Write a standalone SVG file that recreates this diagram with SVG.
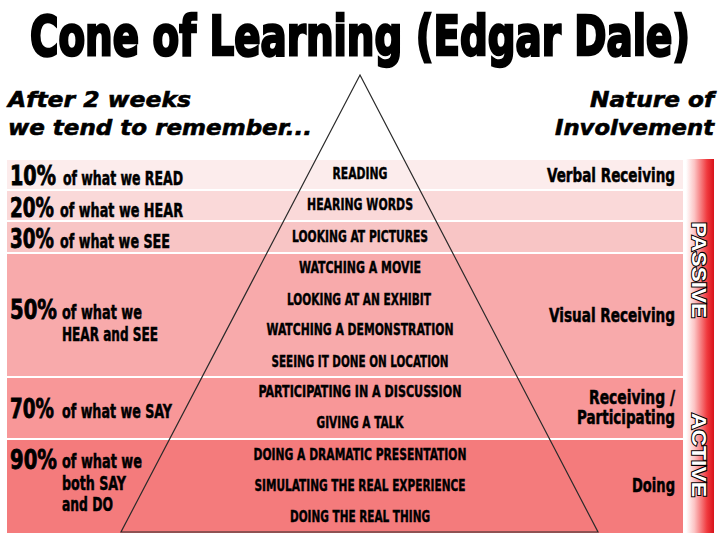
<svg xmlns="http://www.w3.org/2000/svg" width="720" height="540" viewBox="0 0 720 540">
  <defs>
    <linearGradient id="barGrad" x1="0" y1="0" x2="1" y2="0">
      <stop offset="0" stop-color="#ffffff"/>
      <stop offset="0.3" stop-color="#fcc4c4"/>
      <stop offset="0.75" stop-color="#f03a3e"/>
      <stop offset="1" stop-color="#d8121a"/>
    </linearGradient>
    <style>
      .title { font-family: "Liberation Sans Narrow", "DejaVu Sans Condensed", "Liberation Sans", sans-serif; font-weight: bold; font-size: 39px; fill: #000; stroke: #000; stroke-width: 1.8px; }
      .head { font-family: "DejaVu Sans", "Liberation Sans", sans-serif; font-weight: bold; font-style: italic; font-size: 21px; fill: #000; stroke: #000; stroke-width: 0.6px; }
      .pct { font-family: "Liberation Sans Narrow", "DejaVu Sans Condensed", "Liberation Sans", sans-serif; font-weight: bold; font-size: 27px; fill: #000; stroke: #000; stroke-width: 0.8px; }
      .what { font-family: "Liberation Sans Narrow", "DejaVu Sans Condensed", "Liberation Sans", sans-serif; font-weight: bold; font-size: 19px; fill: #000; stroke: #000; stroke-width: 0.5px; }
      .act { font-family: "Liberation Sans Narrow", "DejaVu Sans Condensed", "Liberation Sans", sans-serif; font-weight: bold; font-size: 15px; fill: #000; stroke: #000; stroke-width: 0.4px; text-anchor: middle; }
      .inv { font-family: "Liberation Sans Narrow", "DejaVu Sans Condensed", "Liberation Sans", sans-serif; font-weight: bold; font-size: 19px; fill: #000; stroke: #000; stroke-width: 0.5px; text-anchor: end; }
      .side { font-family: "Liberation Sans", "DejaVu Sans", sans-serif; font-weight: bold; font-size: 21px; fill: #fff; stroke: #000; stroke-width: 2px; paint-order: stroke; text-anchor: middle; }
      .cone { fill: none; stroke: #2a2a2a; stroke-width: 1.2; }
    </style>
  </defs>

  <rect width="720" height="540" fill="#ffffff"/>

  <!-- heading: condensed glyphs stretched vertically for a tall poster look -->
  <g id="title">
    <text class="title" transform="translate(30,55) scale(1,1.42)" x="0" y="0" textLength="660" lengthAdjust="spacingAndGlyphs">Cone of Learning (Edgar Dale)</text>
  </g>

  <g id="header-left">
    <text class="head" x="8" y="107" textLength="183" lengthAdjust="spacingAndGlyphs">After 2 weeks</text>
    <text class="head" x="8" y="135" textLength="304" lengthAdjust="spacingAndGlyphs">we tend to remember...</text>
  </g>
  <g id="header-right">
    <text class="head" x="714" y="107" text-anchor="end" textLength="124" lengthAdjust="spacingAndGlyphs">Nature of</text>
    <text class="head" x="714" y="135" text-anchor="end" textLength="159" lengthAdjust="spacingAndGlyphs">Involvement</text>
  </g>

  <!-- horizontal bands -->
  <g id="bands">
    <rect x="7" y="160" width="676" height="29" fill="#fcecec"/>
    <rect x="7" y="191" width="676" height="29" fill="#fad9d9"/>
    <rect x="7" y="222" width="676" height="30" fill="#f8c5c5"/>
    <rect x="7" y="254" width="676" height="122" fill="#f8aaab"/>
    <rect x="7" y="378" width="676" height="60" fill="#f89798"/>
    <rect x="7" y="440" width="676" height="93" fill="#f47b7c"/>
  </g>

  <!-- side bar -->
  <g id="side-bar">
    <rect x="686" y="159" width="28" height="374" fill="url(#barGrad)"/>
    <text class="side" transform="translate(699,270) rotate(90)" textLength="96" lengthAdjust="spacingAndGlyphs" dominant-baseline="central">PASSIVE</text>
    <text class="side" transform="translate(699,455) rotate(90)" textLength="84" lengthAdjust="spacingAndGlyphs" dominant-baseline="central">ACTIVE</text>
  </g>

  <!-- cone outline -->
  <g id="connectors">
    <polygon class="cone" points="360,75 598,532 121,532"/>
  </g>

  <!-- retention rows -->
  <g id="row-10">
    <text class="pct" x="10" y="185" textLength="46" lengthAdjust="spacingAndGlyphs">10%</text>
    <text class="what" x="63" y="185" textLength="120" lengthAdjust="spacingAndGlyphs">of what we READ</text>
    <text class="act" x="360" y="179" textLength="55" lengthAdjust="spacingAndGlyphs">READING</text>
    <text class="inv" x="675" y="182" textLength="128" lengthAdjust="spacingAndGlyphs">Verbal Receiving</text>
  </g>
  <g id="row-20">
    <text class="pct" x="10" y="217" textLength="44" lengthAdjust="spacingAndGlyphs">20%</text>
    <text class="what" x="60" y="217" textLength="123" lengthAdjust="spacingAndGlyphs">of what we HEAR</text>
    <text class="act" x="360" y="210" textLength="106" lengthAdjust="spacingAndGlyphs">HEARING WORDS</text>
  </g>
  <g id="row-30">
    <text class="pct" x="10" y="248" textLength="44" lengthAdjust="spacingAndGlyphs">30%</text>
    <text class="what" x="60" y="248" textLength="110" lengthAdjust="spacingAndGlyphs">of what we SEE</text>
    <text class="act" x="360" y="242" textLength="136" lengthAdjust="spacingAndGlyphs">LOOKING AT PICTURES</text>
  </g>
  <g id="row-50">
    <text class="pct" x="10" y="319" textLength="47" lengthAdjust="spacingAndGlyphs">50%</text>
    <text class="what" x="62" y="319" textLength="80" lengthAdjust="spacingAndGlyphs">of what we</text>
    <text class="what" x="62" y="341" textLength="96" lengthAdjust="spacingAndGlyphs">HEAR and SEE</text>
    <text class="act" x="360" y="273" textLength="122" lengthAdjust="spacingAndGlyphs">WATCHING A MOVIE</text>
    <text class="act" x="359" y="305" textLength="144" lengthAdjust="spacingAndGlyphs">LOOKING AT AN EXHIBIT</text>
    <text class="act" x="360" y="335" textLength="187" lengthAdjust="spacingAndGlyphs">WATCHING A DEMONSTRATION</text>
    <text class="act" x="360" y="367" textLength="177" lengthAdjust="spacingAndGlyphs">SEEING IT DONE ON LOCATION</text>
    <text class="inv" x="675" y="322" textLength="126" lengthAdjust="spacingAndGlyphs">Visual Receiving</text>
  </g>
  <g id="row-70">
    <text class="pct" x="10" y="418" textLength="44" lengthAdjust="spacingAndGlyphs">70%</text>
    <text class="what" x="62" y="418" textLength="110" lengthAdjust="spacingAndGlyphs">of what we SAY</text>
    <text class="act" x="360" y="397" textLength="203" lengthAdjust="spacingAndGlyphs">PARTICIPATING IN A DISCUSSION</text>
    <text class="act" x="360" y="428" textLength="87" lengthAdjust="spacingAndGlyphs">GIVING A TALK</text>
    <text class="inv" x="675" y="404" textLength="86" lengthAdjust="spacingAndGlyphs">Receiving /</text>
    <text class="inv" x="675" y="424" textLength="98" lengthAdjust="spacingAndGlyphs">Participating</text>
  </g>
  <g id="row-90">
    <text class="pct" x="10" y="469" textLength="47" lengthAdjust="spacingAndGlyphs">90%</text>
    <text class="what" x="62" y="468" textLength="80" lengthAdjust="spacingAndGlyphs">of what we</text>
    <text class="what" x="62" y="490" textLength="64" lengthAdjust="spacingAndGlyphs">both SAY</text>
    <text class="what" x="62" y="511" textLength="51" lengthAdjust="spacingAndGlyphs">and DO</text>
    <text class="act" x="360" y="460" textLength="213" lengthAdjust="spacingAndGlyphs">DOING A DRAMATIC PRESENTATION</text>
    <text class="act" x="360" y="491" textLength="211" lengthAdjust="spacingAndGlyphs">SIMULATING THE REAL EXPERIENCE</text>
    <text class="act" x="360" y="522" textLength="140" lengthAdjust="spacingAndGlyphs">DOING THE REAL THING</text>
    <text class="inv" x="675" y="492" textLength="43" lengthAdjust="spacingAndGlyphs">Doing</text>
  </g>
</svg>
